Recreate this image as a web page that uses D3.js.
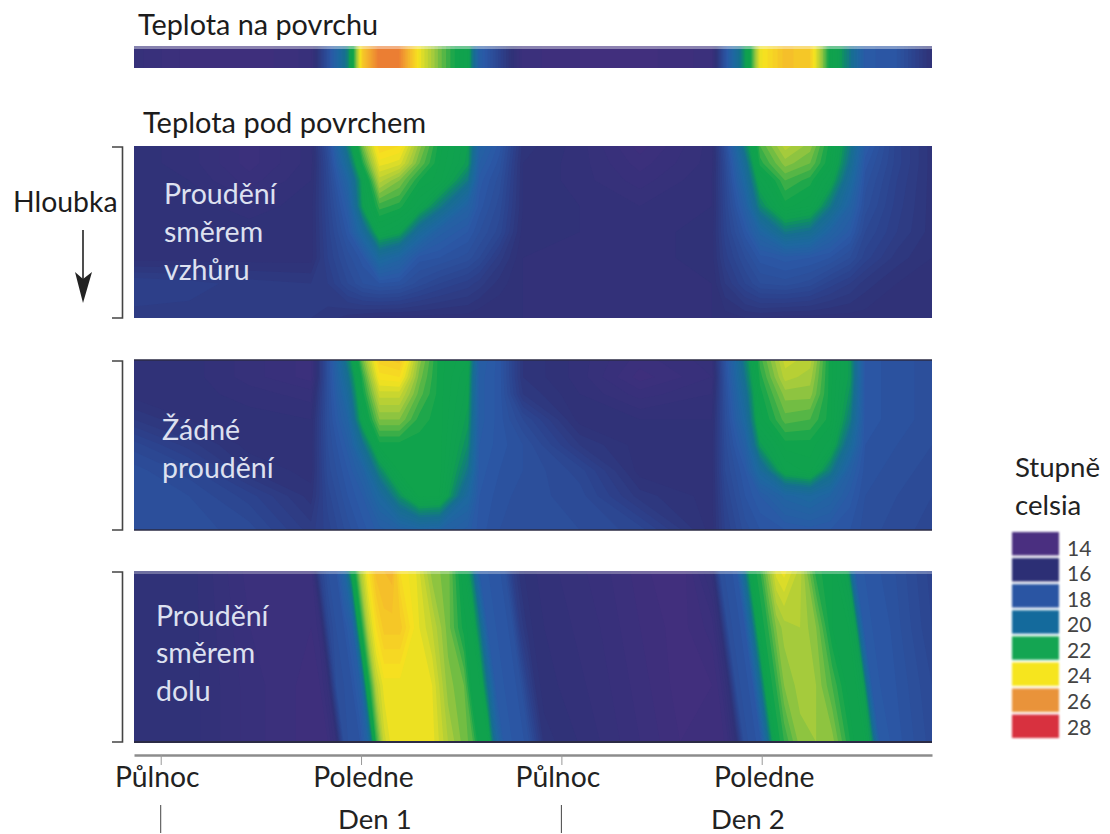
<!DOCTYPE html>
<html>
<head>
<meta charset="utf-8">
<script src="https://cdn.jsdelivr.net/npm/d3@7"></script>
<style>
  html, body { margin: 0; background: #fff; }
  text { font-family: Lato, "Open Sans", sans-serif; }
</style>
</head>
<body>
<div id="chart"></div>
<script>
// sloupce mřížky: hodiny od první půlnoci
const hours = [-1.6, 1.7, 5.3, 9, 10, 11.2, 12.1, 13.1, 14.3, 15.5, 16.7, 18.4, 19.1, 20.3,
               21.7, 25.1, 28.7, 33, 33.8, 35, 35.9, 37.4, 38.9, 40.1, 41.3, 42.2, 44.1, 46.2];
// řádky mřížky: relativní hloubka
const depths = [0, 0.1, 0.2, 0.35, 0.5, 0.65, 0.8, 1];

const surfaceTemp = [15.6, 15, 14.9, 15.4, 17.6, 20.5, 24.8, 26.5, 26.3, 24, 22.8, 21.5, 18.5, 17,
                     15.2, 14.9, 14.8, 15.2, 17.8, 21, 24, 25, 24.7, 21.9, 20.2, 18.2, 17.9, 16];

const upwardTemp = [
  [16, 15.8, 15.2, 15.8, 17.5, 20.5, 22.8, 24.5, 24.3, 23, 22, 21.1, 18.8, 18, 16.2, 15.8, 15, 15.8, 17.5, 20.5, 22.5, 23.4, 23, 22, 20.3, 18.3, 17, 16.2],
  [16, 15.8, 15.2, 15.8, 17.3, 19.8, 22.2, 24, 23.8, 22.7, 21.9, 21, 18.5, 17.8, 16.1, 15.8, 15.2, 15.8, 17.3, 19.8, 22.2, 23, 22.7, 21.9, 20, 18, 17, 16.2],
  [16, 15.9, 15.4, 15.9, 17.2, 19, 21.3, 23.4, 22.9, 22.1, 21.8, 20.3, 18.2, 17.6, 16.1, 15.8, 15.4, 15.9, 17.2, 19.3, 21.5, 22.5, 22.2, 21.4, 19.5, 17.8, 16.9, 16.2],
  [16, 16, 15.8, 16, 17.1, 18.4, 21.1, 22.4, 22.2, 21.5, 20.4, 18.8, 18, 17.4, 16.1, 15.9, 15.7, 15.9, 17.1, 18.6, 20.6, 22, 21.7, 20.3, 18.8, 17.6, 16.8, 16.2],
  [16, 16, 16, 16, 17, 18, 19.5, 21.6, 21.2, 19.6, 18.6, 18.1, 17.7, 17.2, 16, 15.9, 15.8, 16, 17, 18, 19, 20.3, 20, 18.9, 18.2, 17.3, 16.7, 16.2],
  [16, 16, 16, 16, 16.9, 17.6, 18, 19.5, 19, 18, 17.9, 17.6, 17.3, 16.6, 15.9, 15.8, 15.8, 16, 16.8, 17.5, 18, 18.2, 18.1, 17.9, 17.5, 17, 16.4, 16.1],
  [16.9, 16.8, 16.6, 16.5, 16.7, 17.3, 17.7, 17.9, 17.8, 17.4, 17.1, 16.8, 16.6, 16.2, 15.9, 15.8, 15.8, 15.9, 16.5, 17.1, 17.5, 17.6, 17.4, 17, 16.7, 16.4, 16.1, 16],
  [16.6, 16.6, 16.6, 16.5, 16.4, 16.2, 16.1, 16, 16, 16, 16, 16, 15.9, 15.9, 15.9, 15.8, 15.8, 15.9, 16, 16.1, 16.1, 16, 16, 16, 16, 16, 16, 16]
];

const noFlowTemp = [
  [16, 16, 15.6, 15.2, 17.6, 20.5, 22.8, 24.6, 24.8, 23, 22, 21.5, 18.5, 18, 16.3, 15.8, 15.2, 15.6, 17.8, 20.5, 22.4, 23.6, 23.4, 22, 21, 18, 17.8, 17.6],
  [16, 16, 15.6, 15.2, 17.6, 20, 22.3, 24.2, 24.3, 22.8, 22, 21.3, 18.4, 18, 16.3, 15.8, 15, 15.5, 17.7, 20.2, 22.2, 23.4, 23.2, 22, 21, 18, 17.8, 17.6],
  [16, 16, 15.8, 15.6, 17.6, 19.5, 22, 23.6, 23.6, 22.6, 22, 21.2, 18.4, 18, 16.5, 15.9, 15.4, 15.7, 17.6, 19.8, 22, 23, 23, 22, 20.8, 18, 17.8, 17.6],
  [16.5, 16.1, 16, 15.9, 17.6, 18.9, 21.5, 22.9, 22.9, 22.2, 22, 21, 18.4, 18, 17.3, 16, 15.9, 15.9, 17.5, 19.3, 21.8, 22.6, 22.5, 22, 20.4, 18, 17.8, 17.6],
  [17.2, 16.6, 16, 16, 17.5, 18.4, 20, 22, 22, 22, 22, 20.7, 18.3, 18, 17.7, 16.5, 16, 16, 17.4, 18.6, 21, 22, 22, 21.6, 19.6, 17.9, 17.7, 17.5],
  [17.6, 17.2, 16.3, 16, 17.4, 18.1, 18.8, 20.6, 22, 22, 22, 20.2, 18.2, 17.9, 17.7, 17.2, 16, 16, 17.3, 18.1, 19.5, 21.5, 21.8, 20.4, 18.6, 17.8, 17.6, 17.4],
  [17.7, 17.5, 17, 16.2, 17.2, 17.9, 18.3, 19.3, 20.8, 22, 21.9, 19.3, 18.1, 17.8, 17.6, 17.4, 16.4, 16, 17.1, 17.9, 18.3, 19, 19.3, 18.9, 18.2, 17.7, 17.5, 17.3],
  [17.7, 17.6, 17.4, 16.6, 17, 17.6, 18, 18.4, 18.7, 19, 18.9, 18.4, 18, 17.7, 17.5, 17.5, 17.2, 16, 16.9, 17.6, 17.9, 18.1, 18.2, 18.1, 17.9, 17.6, 17.4, 17.2]
];

// panel "směrem dolu" má šikmé pruhy, proto vlastní hustší sloupce
const downHours = [-1.6, 1.76, 5.35, 9.01, 9.54, 10.02, 10.5, 10.98, 11.46, 11.94, 12.42, 12.9, 13.38, 13.86, 14.34, 15.3,
                   16.26, 17.21, 18.17, 18.65, 19.13, 19.61, 20.09, 20.57, 21.05, 21.53, 22.01, 22.49, 22.97, 26.32, 29.32, 31.11,
                   33.03, 33.51, 33.99, 34.47, 34.95, 35.43, 35.91, 36.38, 36.86, 37.34, 38.3, 39.26, 40.22, 41.18, 41.66, 42.14,
                   42.62, 43.1, 43.7, 46.2];
const downDepths = [0, 0.33, 0.67, 1];
const downwardTemp = [
  [16, 16, 15.2, 15.2, 17, 17.7, 17.9, 19, 21.5, 23.2, 24.2, 25, 25.1, 25.2, 24.3, 23.9, 23, 22.8, 21.7, 20.5, 18.2, 18.1, 18, 17.8, 16.8, 16.2, 16, 15.9, 15.8, 15.4, 14.9, 14.7, 15.8, 17.6, 17.8, 18, 20, 21.9, 22.3, 23, 23.8, 24, 23.4, 22.2, 21.9, 21, 18.2, 18.1, 18, 17.9, 17.8, 17],
  [16, 16, 15.3, 15.1, 15.4, 17.2, 17.7, 17.9, 18.5, 21.8, 23.4, 24.3, 24.8, 24.8, 24.8, 24, 23.5, 22.8, 22, 21.7, 20.3, 18.2, 18.1, 18, 17.8, 16.7, 16.2, 16, 15.9, 15.5, 15, 14.8, 15.2, 15.9, 17.6, 17.8, 18, 20, 21.9, 22.3, 22.9, 23.2, 23.3, 22.9, 21.9, 21.7, 21, 18.2, 18.1, 18, 17.9, 17.1],
  [16, 16, 15.4, 15, 15.1, 15.6, 17.5, 17.7, 17.9, 18.5, 21.9, 23.4, 24, 24, 24, 24, 23.9, 23, 22.7, 21.8, 21.7, 20, 18.2, 18.1, 18, 17.8, 16.9, 16.2, 16, 15.6, 15.1, 14.8, 14.9, 15.2, 15.9, 17.6, 17.8, 18, 20, 21.9, 22.3, 22.9, 23.2, 23.1, 22.5, 21.8, 21.7, 21, 18.2, 18.1, 18, 17.3],
  [16, 16, 15.4, 15, 15, 15.1, 15.7, 17.6, 17.8, 17.9, 19, 22.3, 23.6, 24, 24, 24, 24, 23.3, 22.8, 22.6, 21.8, 21.7, 19.5, 18.2, 18.1, 18, 17.8, 17, 16.2, 15.7, 15.2, 14.9, 14.9, 14.9, 15.3, 16, 17.6, 17.8, 18, 20, 21.9, 22.3, 23, 23.1, 23, 22.2, 21.8, 21.7, 20.8, 18.2, 18.1, 17.4]
];

// barevná škála
const tempStops = [14, 16, 17, 18, 19, 20, 20.6, 21, 22, 23, 24, 25, 26, 27, 28];
const tempColors = ["#4a2d80", "#2f3278", "#2c4590", "#2b58a6", "#1f67a2", "#166f90", "#0f8a6c", "#10a050", "#10a34c",
                    "#9cc83f", "#f6e41f", "#f5bb2b", "#ee8c32", "#e55c35", "#d8303f"];

const legendTicks = [14, 16, 18, 20, 22, 24, 26, 28];
const legendColors = ["#4a2f80", "#2c2f75", "#2a55a3", "#146a9c", "#14a552", "#f6e51e", "#e9933a", "#d8313f"];

const axisTicks = [0, 12, 24, 36];
const axisLabels = ["Půlnoc", "Poledne", "Půlnoc", "Poledne"];

const width = 1110, height = 834;

const svg = d3.select("#chart").append("svg")
    .attr("width", width)
    .attr("height", height)
    .style("display", "block");

const defs = svg.append("defs");
const x = d3.scaleLinear().domain([-1.6, 46.2]).range([134, 932]);
const color = d3.scaleLinear().domain(tempStops).range(tempColors).interpolate(d3.interpolateRgb);
const thresholds = d3.range(13.5, 28.5, 0.2);

function drawField(id, grid, cols, rowDepths, top, bottom) {
  const y = d3.scaleLinear().domain([0, 1]).range([top, bottom]);
  // index sloupce/řádku -> pixel (mřížka není rovnoměrná)
  const colToPx = d3.scaleLinear().domain(d3.range(cols.length)).range(cols.map(x)).clamp(true);
  const rowToPx = d3.scaleLinear().domain(d3.range(rowDepths.length)).range(rowDepths.map(y)).clamp(true);

  const contours = d3.contours()
      .size([cols.length, rowDepths.length])
      .thresholds(thresholds)(grid.flat());

  const path = d3.geoPath(d3.geoTransform({
    point(px, py) { this.stream.point(colToPx(px - 0.5), rowToPx(py - 0.5)); }
  }));

  defs.append("clipPath").attr("id", id)
    .append("rect")
      .attr("x", x.range()[0])
      .attr("y", top)
      .attr("width", x.range()[1] - x.range()[0])
      .attr("height", bottom - top);

  svg.append("g")
      .style("filter", "blur(0.7px)")
    .append("g")
      .attr("clip-path", `url(#${id})`)
    .selectAll("path")
    .data(contours)
    .join("path")
      .attr("d", path)
      .attr("fill", d => color(Math.max(d.value, 14)));
}

drawField("surface", [surfaceTemp, surfaceTemp], hours, [0, 1], 46, 68);
drawField("upward", upwardTemp, hours, depths, 146, 318);
drawField("noflow", noFlowTemp, hours, depths, 360, 530);
drawField("downward", downwardTemp, downHours, downDepths, 571, 742);

// tmavé okraje panelů
[[360, 1.5], [530, 1.5], [742, 2]].forEach(([yy, w]) => {
  svg.append("line")
    .attr("x1", 134).attr("x2", 932)
    .attr("y1", yy).attr("y2", yy)
    .attr("stroke", "#2b2b45")
    .attr("stroke-width", w);
});

// světlý rozmazaný horní okraj
[[47.5, 0.4], [572.5, 0.3]].forEach(([yy, o]) => {
  svg.append("line")
    .attr("x1", 134).attr("x2", 932)
    .attr("y1", yy).attr("y2", yy)
    .attr("stroke", "#fff")
    .attr("stroke-opacity", o)
    .attr("stroke-width", 3);
});

// závorky hloubky
[[147, 318], [361, 530], [572, 742]].forEach(([t, b]) => {
  svg.append("path")
    .attr("d", `M112,${t}H122.5V${b}H112`)
    .attr("fill", "none")
    .attr("stroke", "#444")
    .attr("stroke-width", 1.6);
});

function label(txt, tx, ty, size, fill) {
  return svg.append("text")
    .attr("x", tx)
    .attr("y", ty)
    .attr("font-size", size)
    .attr("fill", fill)
    .text(txt);
}

label("Teplota na povrchu", 138, 34.5, 28.8, "#1c1c1c");
label("Teplota pod povrchem", 143, 133, 29, "#1c1c1c");
label("Hloubka", 13, 212, 28.4, "#1c1c1c");

// šipka
svg.append("line")
  .attr("x1", 83).attr("x2", 83)
  .attr("y1", 230).attr("y2", 285)
  .attr("stroke", "#222")
  .attr("stroke-width", 1.6);
svg.append("path")
  .attr("d", "M75,272L83,279L92,272L83,303Z")
  .attr("fill", "#222");

// popisky v panelech
const panelLabel = "#dde1f0";
const panelSize = 28.5;
label("Proudění", 164, 204, panelSize, panelLabel);
label("směrem", 164, 242, panelSize, panelLabel);
label("vzhůru", 164, 280, panelSize, panelLabel);
label("Žádné", 162, 440, panelSize, panelLabel);
label("proudění", 162, 478, panelSize, panelLabel);
label("Proudění", 156, 626, panelSize, panelLabel);
label("směrem", 156, 663, panelSize, panelLabel);
label("dolu", 156, 701, panelSize, panelLabel);

// časová osa
const axis = svg.append("g")
    .attr("transform", "translate(0,755)")
    .call(d3.axisBottom(x)
      .tickValues(axisTicks)
      .tickSize(10)
      .tickSizeOuter(0)
      .tickFormat((d, i) => axisLabels[i]));
axis.select(".domain").attr("stroke", "#8c8c8c").attr("stroke-width", 2.5);
axis.selectAll(".tick line").attr("stroke", "#999").attr("stroke-width", 1);
axis.selectAll(".tick text")
    .attr("y", 32)
    .attr("dy", 0)
    .attr("dx", (d, i) => [-4, 2, -4, 2][i])
    .attr("font-family", "Lato")
    .attr("font-size", 28.3)
    .attr("fill", "#222");

label("Den 1", 338, 829, 27.5, "#222");
label("Den 2", 711, 829, 27.5, "#222");
[0, 24].forEach(h => {
  svg.append("line")
    .attr("x1", x(h)).attr("x2", x(h))
    .attr("y1", 805).attr("y2", 833)
    .attr("stroke", "#444")
    .attr("stroke-width", 1);
});

// legenda
label("Stupně", 1015, 477, 27.6, "#222");
label("celsia", 1015, 515, 27.6, "#222");

const legendBand = d3.scaleBand().domain(legendTicks).range([532, 738]).paddingInner(0.1);
const legendText = d3.scalePoint().domain(legendTicks).range([548, 727]);

svg.append("g")
    .style("filter", "blur(0.8px)")
  .selectAll("rect")
  .data(legendTicks)
  .join("rect")
    .attr("x", 1012)
    .attr("width", 47)
    .attr("y", d => legendBand(d))
    .attr("height", legendBand.bandwidth())
    .attr("fill", (d, i) => legendColors[i]);

svg.append("g")
  .selectAll("text")
  .data(legendTicks)
  .join("text")
    .attr("x", 1067)
    .attr("y", d => legendText(d))
    .attr("dy", "0.36em")
    .attr("font-size", 21)
    .attr("fill", "#444")
    .text(d => d);
</script>
</body>
</html>
